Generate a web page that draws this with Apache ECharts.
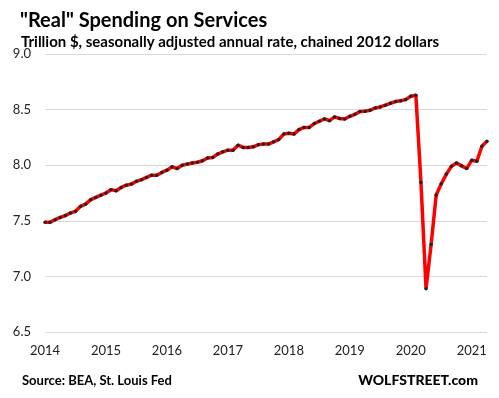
<!DOCTYPE html>
<html>
<head>
<meta charset="utf-8">
<script src="https://cdn.jsdelivr.net/npm/echarts@6/dist/echarts.min.js"></script>
<style>
  html, body { margin: 0; padding: 0; background: #fff; }
  #main { width: 499px; height: 398px; }
</style>
</head>
<body>
<div id="main"></div>
<script>
// monthly, Jan 2014 .. Apr 2021
var years = [2014, 2015, 2016, 2017, 2018, 2019, 2020, 2021];
var yTicks = [6.5, 7.0, 7.5, 8.0, 8.5, 9.0];

var v2014 = [7.487, 7.487, 7.51, 7.53, 7.547, 7.57, 7.585, 7.63, 7.65, 7.69, 7.71, 7.73];
var v2015 = [7.75, 7.78, 7.77, 7.80, 7.82, 7.83, 7.855, 7.87, 7.89, 7.91, 7.91, 7.935];
var v2016 = [7.955, 7.985, 7.97, 8.00, 8.01, 8.02, 8.027, 8.04, 8.065, 8.07, 8.10, 8.12];
var v2017 = [8.135, 8.135, 8.18, 8.16, 8.16, 8.165, 8.185, 8.19, 8.19, 8.21, 8.23, 8.28];
var v2018 = [8.287, 8.28, 8.32, 8.34, 8.34, 8.374, 8.395, 8.416, 8.40, 8.434, 8.42, 8.416];
var v2019 = [8.44, 8.458, 8.482, 8.485, 8.494, 8.515, 8.524, 8.54, 8.557, 8.572, 8.58, 8.59];
var v2020 = [8.62, 8.63, 7.845, 6.89, 7.286, 7.732, 7.833, 7.92, 7.99, 8.02, 7.994, 7.97];
var v2021 = [8.045, 8.035, 8.17, 8.215];

var spending = [].concat(v2014, v2015, v2016, v2017, v2018, v2019, v2020, v2021);

var months = [];
for (var i = 0; i < spending.length; i++) {
    var yr = years[0] + Math.floor(i / 12);
    var mo = (i % 12) + 1;
    months.push(yr + '-' + (mo < 10 ? '0' + mo : mo));
}

var chart = echarts.init(document.getElementById('main'));

var option = {
    animation: false,
    backgroundColor: '#fff',
    textStyle: { fontFamily: 'Lato' },
    title: [{
        text: '"Real" Spending on Services',
        left: 15, top: 6,
        textStyle: { fontFamily: 'Lato', fontWeight: 'bold', fontSize: 20, color: '#000' }
    }, {
        text: 'Trillion $, seasonally adjusted annual rate, chained 2012 dollars',
        left: 16, top: 30,
        textStyle: { fontFamily: 'Lato', fontWeight: 'bold', fontSize: 15, color: '#000' }
    }, {
        text: 'Source: BEA, St. Louis Fed',
        left: 17, top: 369,
        textStyle: { fontFamily: 'Lato', fontWeight: 'bold', fontSize: 13, color: '#000' }
    }, {
        text: 'WOLFSTREET.com',
        right: 16, top: 368,
        textStyle: { fontFamily: 'Lato', fontWeight: 900, fontSize: 14, color: '#000' }
    }],
    grid: { left: 45, right: 12, top: 54, bottom: 66 },
    xAxis: {
        type: 'category',
        data: months,
        boundaryGap: false,
        axisLine: { show: false },
        axisTick: { show: false },
        axisLabel: {
            interval: 11,
            margin: 12,
            fontSize: 13,
            color: '#222',
            formatter: function (v) { return v.slice(0, 4); }
        },
        splitLine: { show: false }
    },
    yAxis: {
        type: 'value',
        min: yTicks[0],
        max: yTicks[yTicks.length - 1],
        interval: 0.5,
        axisLine: { show: false },
        axisTick: { show: false },
        axisLabel: {
            margin: 14,
            fontSize: 13,
            color: '#222',
            formatter: function (v) { return v.toFixed(1); }
        },
        splitLine: { lineStyle: { color: '#d9d9d9', width: 1 } }
    },
    series: [{
        type: 'line',
        data: spending,
        symbol: 'circle',
        symbolSize: 3.5,
        showAllSymbol: true,
        lineStyle: { color: '#ff0000', width: 3.5 },
        itemStyle: { color: '#222', borderWidth: 0 }
    }]
};

chart.setOption(option);
</script>
</body>
</html>
